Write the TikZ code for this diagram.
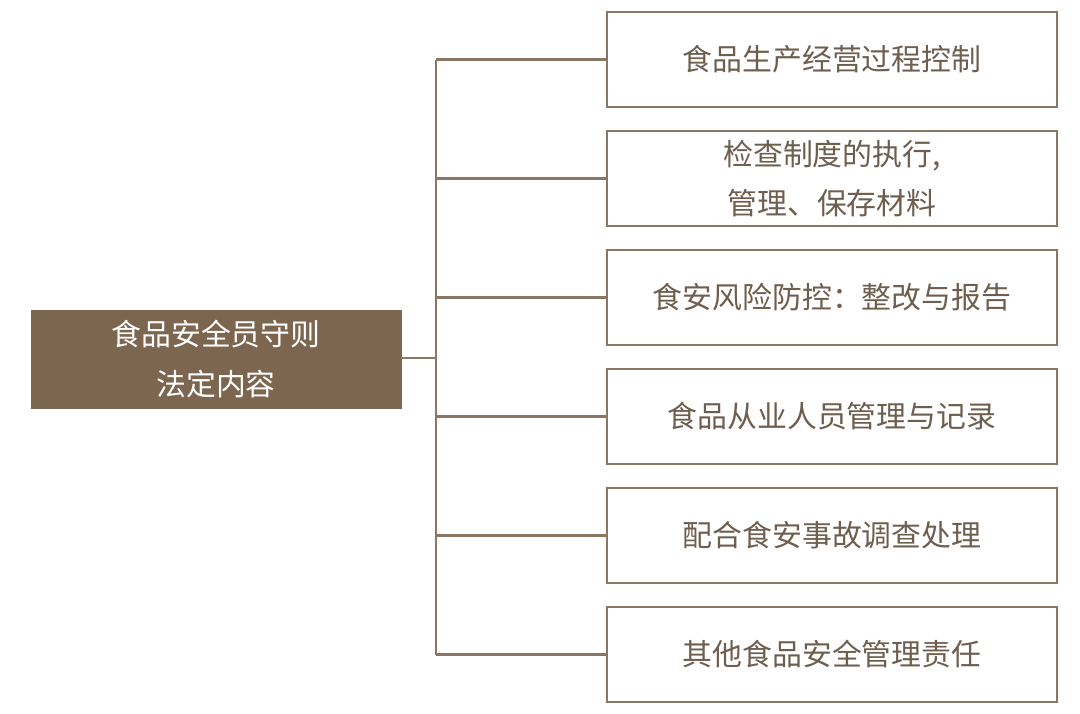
\documentclass[tikz,border=0pt]{standalone}
\usepackage{fontspec}
\setmainfont{Noto Sans CJK SC}
\definecolor{hdfill}{HTML}{7D6650}
\definecolor{lnbrown}{HTML}{8A7763}
\definecolor{txbrown}{HTML}{6E5E4E}
\tikzset{
  rule/.style={draw=hdfill,fill=hdfill,minimum width=370*0.02cm,minimum height=98*0.02cm,
    text=white,align=center,font=\fontsize{17}{28}\selectfont,inner sep=0pt},
  duty/.style={draw=lnbrown,line width=0.9pt,fill=white,minimum width=450*0.02cm,
    minimum height=95*0.02cm,text=txbrown,align=center,font=\fontsize{17}{28}\selectfont,inner sep=0pt},
  link/.style={draw=lnbrown,line width=1.2pt}
}
\begin{document}
\begin{tikzpicture}[x=0.02cm,y=-0.02cm]
\useasboundingbox (0,0) rectangle (1080,714);
\node[rule] (main) at (216,359) {食品安全员守则\\法定内容};

\node[duty] (d1) at (832,59.5) {食品生产经营过程控制};
\node[duty] (d2) at (832,178.5) {检查制度的执行,\\管理、保存材料};
\node[duty] (d3) at (832,297.5) {食安风险防控：整改与报告};
\node[duty] (d4) at (832,416.5) {食品从业人员管理与记录};
\node[duty] (d5) at (832,535.5) {配合食安事故调查处理};
\node[duty] (d6) at (832,654.5) {其他食品安全管理责任};

\coordinate (fork) at (436,358);
\draw[link] (main.east |- fork) -- (fork);
\draw[link] (fork |- d1.west) -- (fork |- d6.west);
\foreach \d in {d1,d2,d3,d4,d5,d6}
  \draw[link] (fork |- \d.west) -- (\d.west);
\end{tikzpicture}
\end{document}
